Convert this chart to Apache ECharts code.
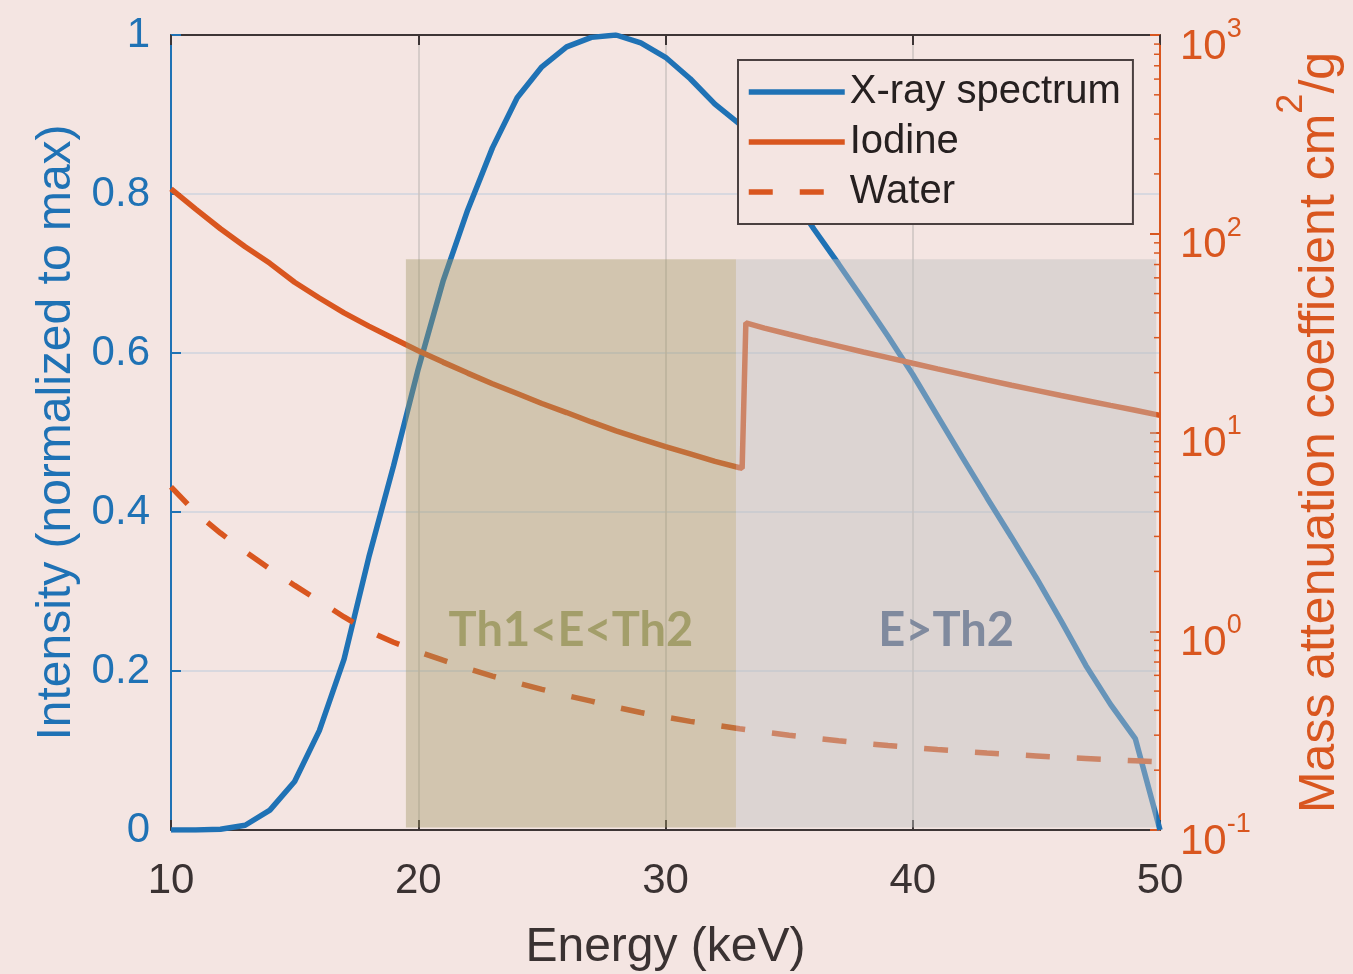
<!DOCTYPE html>
<html>
<head>
<meta charset="utf-8">
<script src="https://cdn.jsdelivr.net/npm/echarts@6/dist/echarts.min.js"></script>
<style>
html, body { margin: 0; padding: 0; background: #f4e5e2; }
#chart { width: 1353px; height: 974px; }
</style>
</head>
<body>
<div id="chart"></div>
<script>
// X-ray spectrum, normalized to max (left axis)
const specE = [10, 11, 12, 13, 14, 15, 16, 17, 18, 19, 20, 21, 22, 23, 24, 25, 26, 27, 28, 29, 30,
  31, 32, 33, 34, 35, 36, 37, 38, 39, 40, 41, 42, 43, 44, 45, 46, 47, 48, 49, 50]
const specI = [0, 0, 0.001, 0.006, 0.025, 0.061, 0.125, 0.215, 0.343, 0.458, 0.58, 0.69, 0.78, 0.858, 0.921, 0.96, 0.985, 0.997, 1.0, 0.99, 0.972,
  0.945, 0.913, 0.888, 0.848, 0.803, 0.756, 0.712, 0.667, 0.621, 0.573, 0.521, 0.469, 0.418, 0.368, 0.317, 0.263, 0.207, 0.158, 0.115, 0]

// iodine mass attenuation coefficient, cm2/g (right axis)
const iodE = [10, 11, 12, 13, 14, 15, 16, 17, 18, 19, 20, 21, 22, 23, 24, 25, 26, 27, 28, 29, 30, 31, 32, 33, 33.1,
  33.25, 34, 35, 36, 37, 38, 39, 40, 41, 42, 43, 44, 45, 46, 47, 48, 49, 50]
const iodMu = [168, 133, 106, 86, 71, 57, 47.5, 40, 34.3, 29.7, 25.8, 22.6, 19.9, 17.6, 15.7, 14.0, 12.6, 11.3, 10.2, 9.3, 8.5, 7.8, 7.15, 6.65, 6.6,
  35.6, 33.5, 31.2, 29.1, 27.2, 25.4, 23.8, 22.3, 20.9, 19.6, 18.4, 17.3, 16.3, 15.35, 14.5, 13.7, 12.95, 12.2]

// water mass attenuation coefficient, cm2/g (right axis)
const waterE = specE
const waterMu = [5.33, 3.95, 3.12, 2.52, 2.06, 1.70, 1.42, 1.18, 1.00, 0.88, 0.79, 0.715, 0.65, 0.595, 0.55, 0.51, 0.475, 0.445, 0.415, 0.39, 0.37,
  0.352, 0.337, 0.323, 0.311, 0.30, 0.29, 0.281, 0.273, 0.266, 0.26, 0.254, 0.249, 0.244, 0.24, 0.236, 0.232, 0.229, 0.226, 0.223, 0.22]

// energy windows
const winStart = [19.5, 32.85]
const winEnd = [32.85, 49.85]
const winTop = 0.718
const winNames = ['Th1<E<Th2', 'E>Th2']

const xTicks = [10, 20, 30, 40, 50]
// minor ticks of the log axis
const logMinor = [0.2, 0.3, 0.4, 0.5, 0.6, 0.7, 0.8, 0.9, 2, 3, 4, 5, 6, 7, 8, 9,
  20, 30, 40, 50, 60, 70, 80, 90, 200, 300, 400, 500, 600, 700, 800, 900]

const blue = '#1f72b5'
const orange = '#d9561f'
const dark = '#3d3535'
const bg = '#f4e5e2'
const font = 'Liberation Sans'

const winFill = ['rgba(160,150,100,0.40)', 'rgba(190,190,190,0.45)']
const winText = ['#a39e6a', '#808a9e']

const myChart = echarts.init(document.getElementById('chart'))

const pairs = (xs, ys) => xs.map((x, i) => [x, ys[i]])

const options = {
  animation: false,
  backgroundColor: bg,
  grid: { left: 171, top: 35, right: 193, bottom: 144, outerBoundsMode: 'none', containLabel: false },
  legend: {
    data: ['X-ray spectrum', 'Iodine', 'Water'],
    orient: 'vertical',
    left: 738,
    top: 60,
    itemWidth: 96,
    itemHeight: 14,
    itemGap: 10,
    padding: [12, 12, 12, 8],
    backgroundColor: bg,
    borderColor: '#4a4040',
    borderWidth: 2,
    selectedMode: false,
    itemStyle: { opacity: 0 },
    lineStyle: { width: 5.5 },
    textStyle: { fontSize: 40, color: '#262020', fontFamily: font }
  },
  xAxis: [
    {
      type: 'value',
      min: 10,
      max: 50,
      interval: 10,
      position: 'bottom',
      name: 'Energy (keV)',
      nameLocation: 'middle',
      nameGap: 94,
      nameTextStyle: { fontSize: 48, color: '#3a3232', fontFamily: font },
      axisLine: { show: true, lineStyle: { color: dark, width: 2 } },
      axisTick: { show: true, inside: true, length: 10, lineStyle: { color: dark, width: 2 } },
      axisLabel: { fontSize: 42, color: '#3a3232', fontFamily: font, margin: 30,
        formatter: v => xTicks.includes(v) ? String(v) : '' },
      splitLine: { show: true, lineStyle: { color: '#cdc3c1', width: 1.5 } }
    },
    {
      type: 'value',
      min: 10,
      max: 50,
      interval: 10,
      position: 'top',
      axisLine: { show: true, lineStyle: { color: dark, width: 2 } },
      axisTick: { show: true, inside: true, length: 10, lineStyle: { color: dark, width: 2 } },
      axisLabel: { show: false },
      splitLine: { show: false }
    }
  ],
  yAxis: [
    {
      type: 'value',
      min: 0,
      max: 1,
      interval: 0.2,
      position: 'left',
      name: 'Intensity (normalized to max)',
      nameLocation: 'middle',
      nameGap: 90,
      nameTextStyle: { fontSize: 48, color: blue, fontFamily: font },
      axisLine: { show: true, lineStyle: { color: blue, width: 2 } },
      axisTick: { show: true, inside: true, length: 10, lineStyle: { color: blue, width: 2 } },
      axisLabel: { fontSize: 42, color: blue, fontFamily: font, margin: 21 },
      splitLine: { show: true, lineStyle: { color: '#cfd3de', width: 1.5 } }
    },
    {
      type: 'log',
      logBase: 10,
      min: 0.1,
      max: 1000,
      position: 'right',
      name: 'Mass attenuation coefficient cm{sup|2}/g',
      nameLocation: 'middle',
      nameGap: 114,
      nameTextStyle: {
        fontSize: 50, color: orange, fontFamily: font, lineHeight: 92,
        rich: {
          sup: { fontSize: 36, color: orange, fontFamily: font, lineHeight: 46, verticalAlign: 'top' }
        }
      },
      axisLine: { show: true, lineStyle: { color: orange, width: 2 } },
      axisTick: { show: true, inside: true, length: 10, lineStyle: { color: orange, width: 2 } },
      minorTick: { show: false },
      axisLabel: {
        fontSize: 42, color: orange, fontFamily: font, margin: 20, lineHeight: 62,
        padding: [24, 0, 0, 0],
        formatter: v => '10{sup|' + Math.round(Math.log10(v)) + '}',
        rich: {
          sup: { fontSize: 27, color: orange, fontFamily: font, lineHeight: 30, verticalAlign: 'top' }
        }
      },
      splitLine: { show: false }
    }
  ],
  series: [
    {
      name: 'X-ray spectrum',
      type: 'line',
      xAxisIndex: 0,
      yAxisIndex: 0,
      data: pairs(specE, specI),
      symbol: 'none',
      lineStyle: { color: blue, width: 5.5 },
      itemStyle: { color: blue },
      z: 2
    },
    {
      name: 'Iodine',
      type: 'line',
      xAxisIndex: 0,
      yAxisIndex: 1,
      data: pairs(iodE, iodMu),
      symbol: 'none',
      lineStyle: { color: orange, width: 5.5 },
      itemStyle: { color: orange },
      z: 2
    },
    {
      name: 'Water',
      type: 'line',
      xAxisIndex: 0,
      yAxisIndex: 1,
      data: pairs(waterE, waterMu),
      symbol: 'none',
      lineStyle: { color: orange, width: 5.5, type: [24, 27] },
      itemStyle: { color: orange },
      z: 2
    },
    {
      // shaded energy windows, drawn over the curves
      name: 'windows',
      type: 'custom',
      xAxisIndex: 0,
      yAxisIndex: 0,
      z: 3,
      silent: true,
      data: winStart.map((s, i) => [s, winEnd[i], winTop]),
      encode: { x: [0, 1], y: 2 },
      renderItem: (params, api) => {
        const i = params.dataIndex
        const p0 = api.coord([api.value(0), api.value(2)])
        const p1 = api.coord([api.value(1), 0.003])
        const lab = api.coord([(api.value(0) + api.value(1)) / 2, 0.25])
        return {
          type: 'group',
          children: [
            {
              type: 'rect',
              shape: { x: p0[0], y: p0[1], width: p1[0] - p0[0], height: p1[1] - p0[1] },
              style: { fill: winFill[i] }
            },
            {
              type: 'text',
              style: {
                text: winNames[i], x: lab[0], y: lab[1],
                align: 'center', verticalAlign: 'middle',
                fontSize: 47, fontWeight: 'bold', fontFamily: 'Lato', fill: winText[i]
              }
            }
          ]
        }
      }
    },
    {
      // log minor ticks on the right axis
      name: 'minor',
      type: 'custom',
      xAxisIndex: 0,
      yAxisIndex: 1,
      z: 4,
      silent: true,
      clip: false,
      data: logMinor.map(v => [50, v]),
      encode: { x: 0, y: 1 },
      renderItem: (params, api) => {
        const p = api.coord([api.value(0), api.value(1)])
        return {
          type: 'line',
          shape: { x1: p[0] - 6, y1: p[1], x2: p[0], y2: p[1] },
          style: { stroke: orange, lineWidth: 1.5 }
        }
      }
    }
  ]
}
myChart.setOption(options)
</script>
</body>
</html>
